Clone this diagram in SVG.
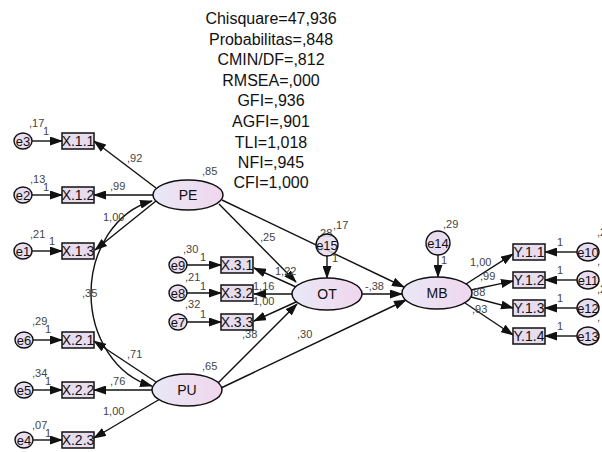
<svg xmlns="http://www.w3.org/2000/svg" width="602" height="452" viewBox="0 0 602 452">
<defs>
<linearGradient id="gEl" x1="0" y1="0" x2="1" y2="0">
<stop offset="0" stop-color="#e9e8f6"/>
<stop offset="1" stop-color="#f0d6ee"/>
</linearGradient>
<marker id="ah" markerUnits="userSpaceOnUse" markerWidth="13" markerHeight="9" refX="12" refY="4.5" orient="auto-start-reverse">
<path d="M0,0 L13,4.5 L0,9 z" fill="#111"/>
</marker>
</defs>
<style>
.st{font-family:"Liberation Sans",Arial,sans-serif;font-size:16px;fill:#111;text-anchor:middle}
.lb{font-family:"Liberation Sans",Arial,sans-serif;font-size:11px;fill:#444}
.nt{font-family:"Liberation Sans",Arial,sans-serif;font-size:14px;fill:#111;text-anchor:middle}
.ct{font-family:"Liberation Sans",Arial,sans-serif;font-size:13px;fill:#111;text-anchor:middle}
.lv{fill:url(#gEl);stroke:#111;stroke-width:1.5}
.bx{fill:#e8dcef;stroke:#111;stroke-width:1.5}
.er{fill:#e8dcef;stroke:#111;stroke-width:1.4}
.cn line,.cn path{stroke:#111;stroke-width:1.4;fill:none;marker-end:url(#ah)}
</style>
<rect width="602" height="452" fill="#fff"/>

<g id="fit">
<text class="st" x="271" y="24">Chisquare=47,936</text>
<text class="st" x="271" y="45">Probabilitas=,848</text>
<text class="st" x="271" y="65">CMIN/DF=,812</text>
<text class="st" x="271" y="86">RMSEA=,000</text>
<text class="st" x="271" y="106">GFI=,936</text>
<text class="st" x="271" y="127">AGFI=,901</text>
<text class="st" x="271" y="148">TLI=1,018</text>
<text class="st" x="271" y="168">NFI=,945</text>
<text class="st" x="271" y="188">CFI=1,000</text>
</g>

<g id="connectors" class="cn">
<line x1="32" y1="141" x2="62" y2="141"/>
<line x1="32" y1="195" x2="62" y2="195"/>
<line x1="32" y1="251" x2="62" y2="251"/>
<line x1="33" y1="340" x2="62" y2="340"/>
<line x1="33" y1="390" x2="62" y2="390"/>
<line x1="33" y1="440" x2="62" y2="440"/>
<line x1="156" y1="188" x2="94" y2="141"/>
<line x1="153" y1="195" x2="94" y2="195"/>
<line x1="156" y1="201" x2="95" y2="250"/>
<path d="M152,201 A79 95 0 0 0 152,386" style="marker-start:url(#ah)"/>
<line x1="156" y1="382" x2="94" y2="341"/>
<line x1="152" y1="390" x2="94" y2="390"/>
<line x1="160" y1="399" x2="94" y2="438"/>
<line x1="187" y1="265" x2="221" y2="265"/>
<line x1="187" y1="293" x2="221" y2="293"/>
<line x1="187" y1="322" x2="221" y2="322"/>
<line x1="296" y1="287" x2="254" y2="268"/>
<line x1="292" y1="294" x2="254" y2="294"/>
<line x1="296" y1="302" x2="254" y2="321"/>
<line x1="219" y1="204" x2="296" y2="282"/>
<line x1="222" y1="200" x2="404" y2="287"/>
<line x1="327" y1="256" x2="327" y2="278"/>
<line x1="362" y1="294" x2="402" y2="294"/>
<line x1="218" y1="383" x2="297" y2="304"/>
<line x1="221" y1="388" x2="406" y2="300"/>
<line x1="438" y1="255" x2="438" y2="277"/>
<line x1="466" y1="284" x2="513" y2="254"/>
<line x1="471" y1="290" x2="513" y2="281"/>
<line x1="471" y1="297" x2="513" y2="308"/>
<line x1="465" y1="303" x2="513" y2="335"/>
<line x1="577" y1="252" x2="545" y2="252"/>
<line x1="577" y1="280" x2="545" y2="280"/>
<line x1="577" y1="308" x2="545" y2="308"/>
<line x1="577" y1="336" x2="545" y2="336"/>
</g>

<g id="labels" class="lb">
<text x="29" y="127">,17</text><text x="43" y="135">1</text>
<text x="30" y="183">,13</text><text x="43" y="191">1</text>
<text x="30" y="238">,21</text><text x="49" y="245">1</text>
<text x="32" y="325">,29</text><text x="45" y="333">1</text>
<text x="32" y="377">,34</text><text x="45" y="385">1</text>
<text x="32" y="429">,07</text><text x="45" y="437">1</text>
<text x="127" y="162">,92</text>
<text x="110" y="190">,99</text>
<text x="103" y="221">1,00</text>
<text x="82" y="297">,35</text>
<text x="127" y="358">,71</text>
<text x="110" y="385">,76</text>
<text x="103" y="415">1,00</text>
<text x="202" y="175">,85</text>
<text x="202" y="370">,65</text>
<text x="183" y="253">,30</text><text x="200" y="261">1</text>
<text x="185" y="281">,21</text><text x="200" y="290">1</text>
<text x="185" y="308">,32</text><text x="200" y="318">1</text>
<text x="275" y="275">1,22</text>
<text x="253" y="290">1,16</text>
<text x="253" y="305">1,00</text>
<text x="260" y="241">,25</text>
<text x="242" y="338">,38</text>
<text x="297" y="338">,30</text>
<text x="365" y="290">-,38</text>
<text x="317" y="237">,28</text>
<text x="333" y="229">,17</text>
<text x="332" y="262">1</text>
<text x="443" y="228">,29</text>
<text x="441" y="264">1</text>
<text x="470" y="266">1,00</text>
<text x="480" y="280">,99</text>
<text x="470" y="296">,88</text>
<text x="472" y="313">,93</text>
<text x="557" y="246">1</text>
<text x="557" y="274">1</text>
<text x="557" y="302">1</text>
<text x="557" y="330">1</text>
<text x="597" y="236">,2</text>
<text x="597" y="265">,</text>
<text x="597" y="293">,2</text>
<text x="597" y="321">,</text>
</g>

<g id="PE"><ellipse class="lv" cx="188" cy="195" rx="35" ry="15"/><text class="nt" x="188" y="200">PE</text></g>
<g id="PU"><ellipse class="lv" cx="187" cy="390" rx="35" ry="16"/><text class="nt" x="187" y="395">PU</text></g>
<g id="OT"><ellipse class="lv" cx="327" cy="294" rx="35" ry="16"/><text class="nt" x="327" y="299">OT</text></g>
<g id="MB"><ellipse class="lv" cx="437" cy="293" rx="35" ry="16"/><text class="nt" x="437" y="298">MB</text></g>

<g id="X11"><rect class="bx" x="62" y="133" width="32" height="16"/><text class="nt" x="78" y="146">X.1.1</text></g>
<g id="X12"><rect class="bx" x="62" y="187" width="32" height="16"/><text class="nt" x="78" y="200">X.1.2</text></g>
<g id="X13"><rect class="bx" x="62" y="243" width="32" height="16"/><text class="nt" x="78" y="256">X.1.3</text></g>
<g id="X21"><rect class="bx" x="62" y="332" width="32" height="16"/><text class="nt" x="78" y="345">X.2.1</text></g>
<g id="X22"><rect class="bx" x="62" y="382" width="32" height="16"/><text class="nt" x="78" y="395">X.2.2</text></g>
<g id="X23"><rect class="bx" x="62" y="432" width="32" height="16"/><text class="nt" x="78" y="445">X.2.3</text></g>
<g id="X31"><rect class="bx" x="221" y="257" width="32" height="16"/><text class="nt" x="237" y="270">X.3.1</text></g>
<g id="X32"><rect class="bx" x="221" y="285" width="32" height="16"/><text class="nt" x="237" y="298">X.3.2</text></g>
<g id="X33"><rect class="bx" x="221" y="314" width="32" height="16"/><text class="nt" x="237" y="327">X.3.3</text></g>
<g id="Y11"><rect class="bx" x="513" y="244" width="32" height="16"/><text class="nt" x="529" y="257">Y.1.1</text></g>
<g id="Y12"><rect class="bx" x="513" y="272" width="32" height="16"/><text class="nt" x="529" y="285">Y.1.2</text></g>
<g id="Y13"><rect class="bx" x="513" y="300" width="32" height="16"/><text class="nt" x="529" y="313">Y.1.3</text></g>
<g id="Y14"><rect class="bx" x="513" y="328" width="32" height="16"/><text class="nt" x="529" y="341">Y.1.4</text></g>

<g id="e3"><ellipse class="er" cx="23" cy="141" rx="9" ry="8"/><text class="ct" x="23" y="146">e3</text></g>
<g id="e2"><ellipse class="er" cx="23" cy="195" rx="9" ry="8"/><text class="ct" x="23" y="200">e2</text></g>
<g id="e1"><ellipse class="er" cx="23" cy="251" rx="9" ry="8"/><text class="ct" x="23" y="256">e1</text></g>
<g id="e6"><ellipse class="er" cx="24" cy="340" rx="9" ry="8"/><text class="ct" x="24" y="345">e6</text></g>
<g id="e5"><ellipse class="er" cx="24" cy="390" rx="9" ry="8"/><text class="ct" x="24" y="395">e5</text></g>
<g id="e4"><ellipse class="er" cx="24" cy="440" rx="9" ry="8"/><text class="ct" x="24" y="445">e4</text></g>
<g id="e9"><ellipse class="er" cx="178" cy="265" rx="9" ry="8"/><text class="ct" x="178" y="270">e9</text></g>
<g id="e8"><ellipse class="er" cx="178" cy="293" rx="9" ry="8"/><text class="ct" x="178" y="298">e8</text></g>
<g id="e7"><ellipse class="er" cx="178" cy="322" rx="9" ry="8"/><text class="ct" x="178" y="327">e7</text></g>
<g id="e15"><circle class="er" cx="327" cy="245" r="11" fill-opacity="0.85"/><text class="ct" x="327" y="250">e15</text></g>
<g id="e14"><circle class="er" cx="438" cy="243" r="12"/><text class="ct" x="438" y="248">e14</text></g>
<g id="e10"><ellipse class="er" cx="588" cy="252" rx="11" ry="9"/><text class="ct" x="588" y="257">e10</text></g>
<g id="e11"><ellipse class="er" cx="588" cy="280" rx="11" ry="9"/><text class="ct" x="588" y="285">e11</text></g>
<g id="e12"><ellipse class="er" cx="588" cy="308" rx="11" ry="9"/><text class="ct" x="588" y="313">e12</text></g>
<g id="e13"><ellipse class="er" cx="588" cy="336" rx="11" ry="9"/><text class="ct" x="588" y="341">e13</text></g>
</svg>
